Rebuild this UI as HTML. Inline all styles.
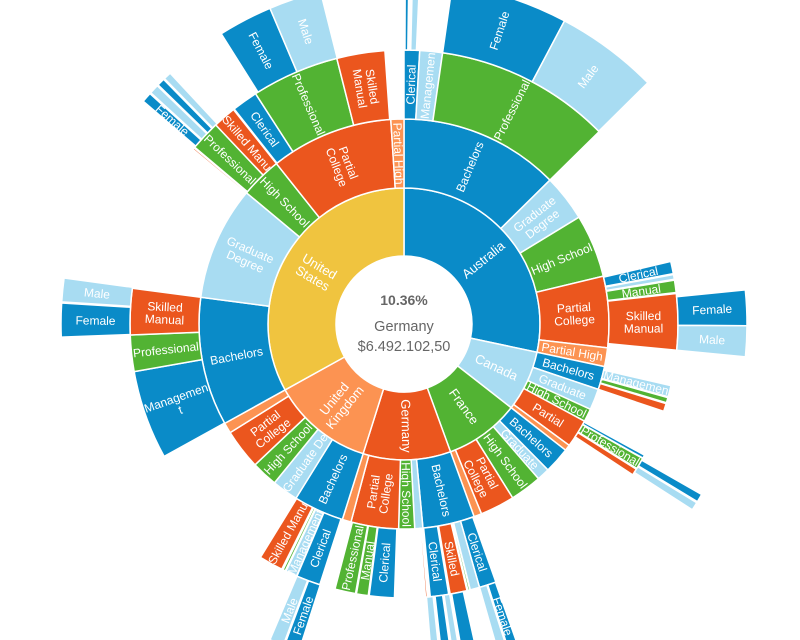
<!DOCTYPE html>
<html><head><meta charset="utf-8"><style>
html,body{margin:0;padding:0;background:#fff;width:800px;height:640px;overflow:hidden}
svg{display:block}
text{font-family:"Liberation Sans",sans-serif}
</style></head><body>
<svg id="s" width="800" height="640" viewBox="0 0 800 640" xmlns="http://www.w3.org/2000/svg"><defs id="d"></defs><g id="g"></g>
<circle cx="404" cy="324" r="67" fill="#fff"/>
<text x="404" y="305" text-anchor="middle" font-size="14" font-weight="bold" fill="#666">10.36%</text>
<text x="404" y="331" text-anchor="middle" font-size="14.5" fill="#666">Germany</text>
<text x="404" y="351" text-anchor="middle" font-size="14.5" fill="#666">$6.492.102,50</text>
</svg>
<script>
const cx=404,cy=324,R=[68,136,205,274,343];
const DB="#0a8bc8",LB="#a8dcf2",G="#52b333",O="#eb561e",LO="#fc9352",Y="#f0c43f";
const D=[
[1,0,102,DB,"Australia"],[1,102,128,LB,"Canada"],[1,128,160,G,"France"],[1,160,197.5,O,"Germany"],[1,197.5,241,LO,"United|Kingdom"],[1,241,360,Y,"United|States"],
[2,0,45.4,DB,"Bachelors"],[2,45.4,58.6,LB,"Graduate|Degree"],[2,58.6,76.5,G,"High School"],[2,76.5,96.7,O,"Partial|College"],[2,96.7,102,LO,"Partial High"],
[2,102,108.6,DB,"Bachelors"],[2,108.6,114.6,LB,"Graduate"],[2,114.6,118.3,G,"High School"],[2,118.3,126.3,O,"Partial"],[2,126.3,128,LO,""],
[2,128,135.4,DB,"Bachelors"],[2,135.4,139,LB,"Graduate"],[2,139,148,G,"High School"],[2,148,157.8,O,"Partial|College"],[2,157.8,160,LO,"Partial High"],
[2,160,174.7,DB,"Bachelors"],[2,174.7,177,LB,"Graduate"],[2,177,181.5,G,"High School"],[2,181.5,195,O,"Partial|College"],[2,195,197.5,LO,"Partial High"],
[2,197.5,211.8,DB,"Bachelors"],[2,211.8,219.2,LB,"Graduate De"],[2,219.2,226.6,G,"High School"],[2,226.6,238,O,"Partial|College"],[2,238,241,LO,"Partial High"],
[2,241,277.5,DB,"Bachelors"],[2,277.5,309.8,LB,"Graduate|Degree"],[2,309.8,321.5,G,"High School"],[2,321.5,356.3,O,"Partial|College"],[2,356.3,360,LO,"Partial High"],
[3,0,3.3,DB,"Clerical"],[3,3.3,8.1,LB,"Managemen"],[3,8.1,45.4,G,"Professional"],
[3,76.8,79.4,DB,"Clerical"],[3,79.6,80.6,LB,""],[3,80.8,83.4,G,"Manual"],[3,83.6,95.5,O,"Skilled|Manual"],
[3,103,105.4,LB,"Managemen"],[3,105.6,106.7,G,""],[3,106.9,108.6,O,"Skilled"],
[3,118.6,119.3,DB,""],[3,119.4,121.8,G,"Professional"],[3,122,123.4,O,""],
[3,160.4,164,DB,"Clerical"],[3,164,166,LB,"Manageme"],[3,166.1,166.5,G,""],[3,166.7,170.3,O,"Skilled"],[3,170.6,174.5,DB,"Clerical"],[3,175.1,175.5,O,""],
[3,182,187.3,DB,"Clerical"],[3,187.5,190,G,"Manual"],[3,190.2,194.6,G,"Professional"],
[3,197.9,203,DB,"Clerical"],[3,203.1,205.5,LB,"Management"],[3,205.7,206.2,G,""],[3,206.5,211.6,O,"Skilled Manu"],
[3,241.1,260,DB,"Managemen|t"],[3,260,267.7,G,"Professional"],[3,267.7,277.5,O,"Skilled|Manual"],
[3,309.6,310,O,""],[3,310.2,316.6,G,"Professional"],[3,316.6,321.5,O,"Skilled Manu"],
[3,321.7,327.2,DB,"Clerical"],[3,327.2,345.8,G,"Professional"],[3,345.8,356,O,"Skilled|Manual"],
[4,0.2,0.8,DB,""],[4,1.4,2.6,LB,""],
[4,8.1,27.9,DB,"Female"],[4,27.9,45.3,LB,"Male"],
[4,84.3,90.3,DB,"Female"],[4,90.3,95.5,LB,"Male"],
[4,119.8,121.2,DB,""],[4,121.4,122.8,LB,""],
[4,160.5,162.2,DB,"Female"],[4,162.4,164,LB,"Male"],
[4,167.5,170,DB,""],[4,170.4,171.6,LB,""],[4,171.9,173.5,DB,""],[4,173.9,175.3,LB,""],
[4,197.8,200.4,DB,"Female"],[4,200.6,203,LB,"Male"],
[4,267.8,273.5,DB,"Female"],[4,273.7,277.7,LB,"Male"],
[4,310.5,312.2,DB,"Female"],[4,312.4,314,LB,"Male"],[4,314.2,315.5,DB,"Female"],[4,315.7,317,LB,"Male"],
[4,327.8,337,DB,"Female"],[4,337,345.9,LB,"Male"]
];
function pt(r,a){const t=a*Math.PI/180;return [(cx+r*Math.sin(t)).toFixed(2),(cy-r*Math.cos(t)).toFixed(2)];}
function arc(r0,r1,a0,a1){const l=a1-a0>180?1:0;const p1=pt(r1,a0),p2=pt(r1,a1),p3=pt(r0,a1),p4=pt(r0,a0);
return `M${p1} A${r1} ${r1} 0 ${l} 1 ${p2} L${p3} A${r0} ${r0} 0 ${l} 0 ${p4}Z`;}
let defs="",g="";
D.forEach((d,i)=>{const [lv,a0,a1,c,lab]=d;const r0=R[lv-1],r1=R[lv];const p=arc(r0,r1,a0,a1);
g+=`<path d="${p}" fill="${c}" stroke="#fff" stroke-width="1.5"/>`;
const rm=(r0+r1)/2;if(!lab||rm*(a1-a0)*Math.PI/180<9)return;
defs+=`<clipPath id="c${i}"><path d="${p}"/></clipPath>`;
const a=(a0+a1)/2;const [x,y]=pt(rm,a);const rot=a<180?a-90:a-270;
const lines=lab.split("|");const fs=lv==1?13:12;const lh=fs*1.05;
let t=`<g clip-path="url(#c${i})"><text transform="translate(${x},${y}) rotate(${rot.toFixed(2)})" text-anchor="middle" font-size="${fs}" fill="#fff">`;
lines.forEach((s,k)=>{const dy=(k-(lines.length-1)/2)*lh+fs*0.35;t+=`<tspan x="0" y="${dy.toFixed(1)}">${s}</tspan>`;});
t+=`</text></g>`;g+=t;});
document.getElementById("d").innerHTML=defs;document.getElementById("g").innerHTML=g;
</script>
</body></html>
